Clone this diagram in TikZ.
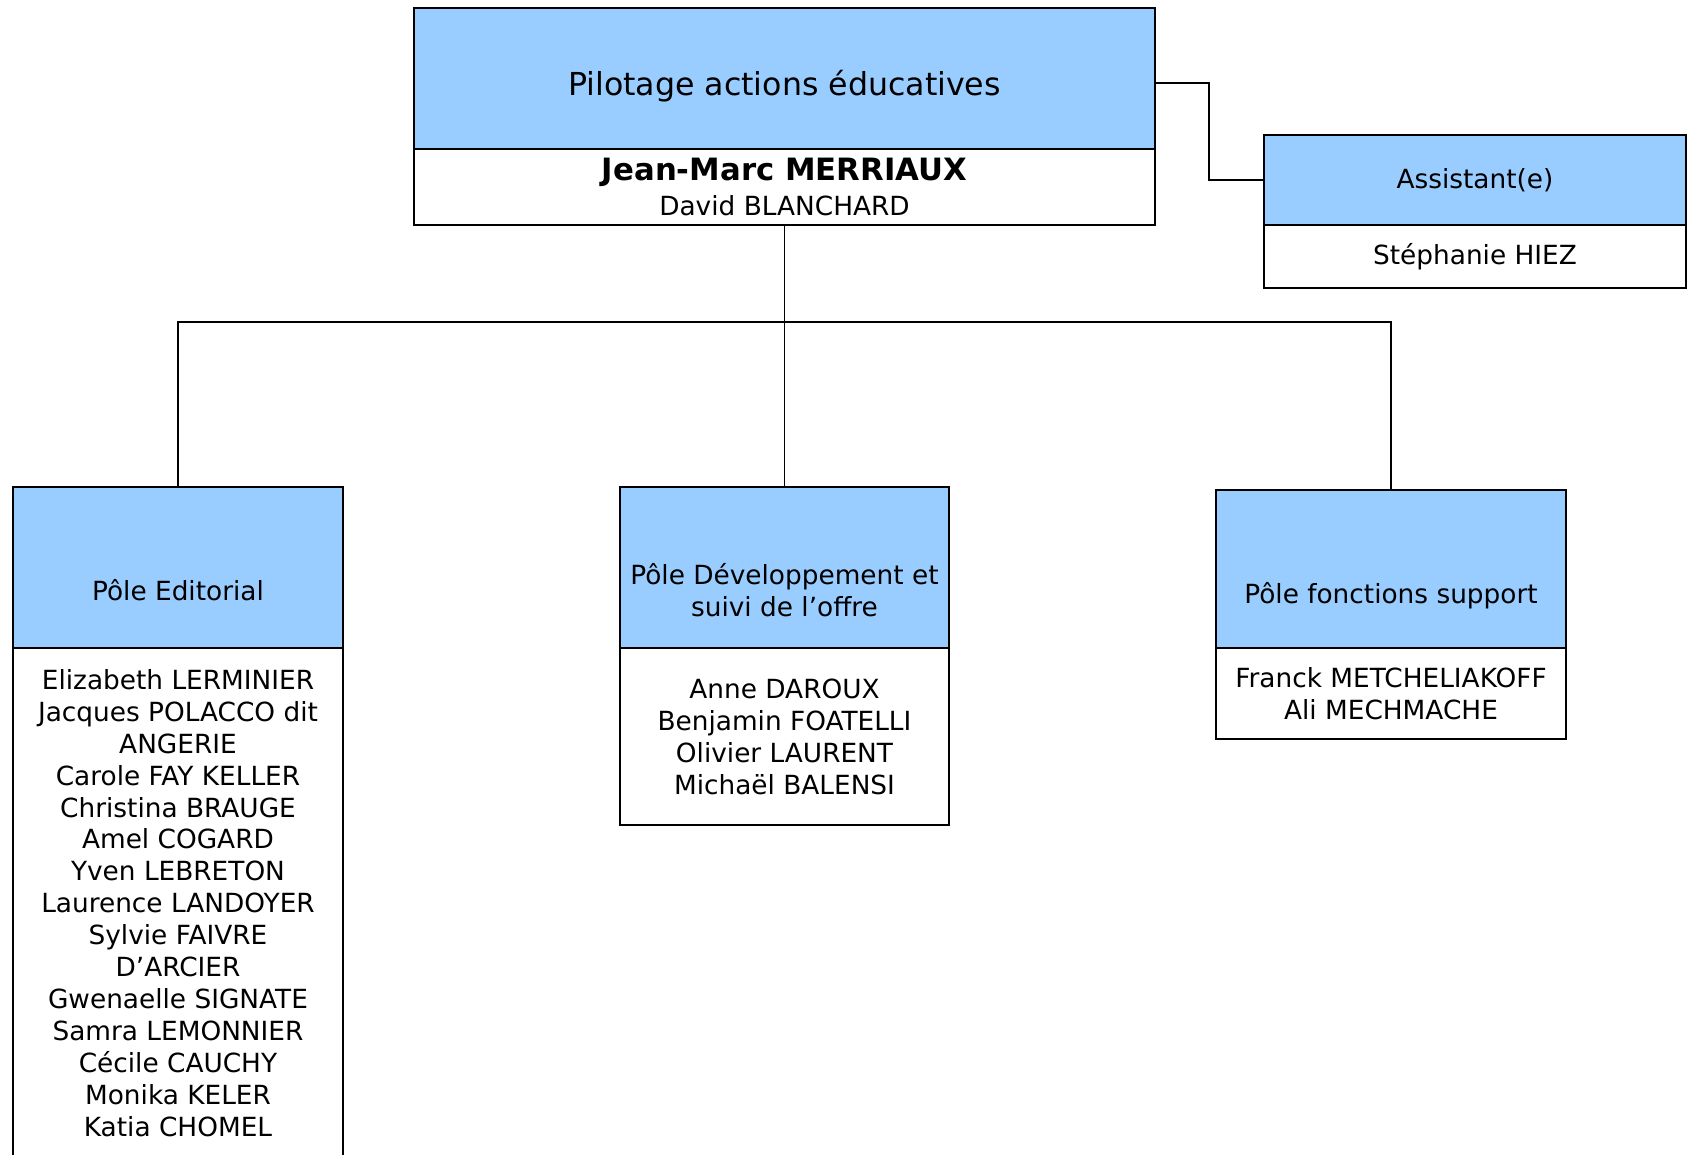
\documentclass[tikz,border=0pt]{standalone}
\usepackage{fontspec}
\setmainfont{DejaVu Sans}
\usepackage{tikz}
\usetikzlibrary{positioning}
\definecolor{headblue}{HTML}{99CCFF}
\newcommand{\lowhead}[1][38pt]{\rule{0pt}{#1}}
\tikzset{
    head/.style={draw,line width=1.2pt,fill=headblue,outer sep=0pt,inner sep=1pt,align=center,font=\fontsize{15}{18.2}\selectfont},
    staff/.style={draw,line width=1.2pt,fill=white,outer sep=0pt,inner sep=1pt,align=center,font=\fontsize{15}{18.2}\selectfont},
    link/.style={black,line width=1.1pt}
}
\begin{document}
\begin{tikzpicture}[x=0.02cm,y=-0.02cm]
\useasboundingbox (0,0) rectangle (1690,1154);
\node[head,minimum width=14.82cm,minimum height=2.82cm,font=\fontsize{18}{22}\selectfont](pilot) at (784.5,78.5){\lowhead[23pt]Pilotage actions éducatives};
\node[staff,minimum width=14.82cm,minimum height=1.52cm,below=0pt of pilot](chief){{\bfseries\fontsize{17.5}{21}\selectfont Jean-Marc MERRIAUX}\\[2pt]David BLANCHARD};

\node[head,minimum width=8.44cm,minimum height=1.8cm](assist) at (1475,180){Assistant(e)};
\node[staff,minimum width=8.44cm,minimum height=1.26cm,below=0pt of assist](assiststaff){Stéphanie HIEZ};

\node[head,minimum width=6.6cm,minimum height=3.22cm](edito) at (178,567.5){\lowhead Pôle Editorial};
\node[staff,minimum width=6.6cm,inner ysep=12pt,below=0pt of edito](editostaff){Elizabeth LERMINIER\\Jacques POLACCO dit\\ANGERIE\\Carole FAY KELLER\\Christina BRAUGE\\Amel COGARD\\Yven LEBRETON\\Laurence LANDOYER\\Sylvie FAIVRE\\D’ARCIER\\Gwenaelle SIGNATE\\Samra LEMONNIER\\Cécile CAUCHY\\Monika KELER\\Katia CHOMEL\rule[-20pt]{0pt}{20pt}};

\node[head,minimum width=6.58cm,minimum height=3.22cm](devel) at (784.5,567.5){\lowhead Pôle Développement et\\suivi de l’offre};
\node[staff,minimum width=6.58cm,minimum height=3.54cm,below=0pt of devel](develstaff){Anne DAROUX\\Benjamin FOATELLI\\Olivier LAURENT\\Michaël BALENSI};

\node[head,minimum width=7cm,minimum height=3.16cm](support) at (1391,569){\lowhead[42pt]Pôle fonctions support};
\node[staff,minimum width=7cm,minimum height=1.82cm,below=0pt of support](supportstaff){Franck METCHELIAKOFF\\Ali MECHMACHE};

\draw[link]([yshift=-0.09cm]pilot.east)--++(54,0)|-(assist.west);
\draw[link](chief.south)--++(0,97)coordinate(bus);
\draw[link](edito.north)|-(bus)-|(support.north);
\draw[link](bus)--(devel.north);
\end{tikzpicture}
\end{document}
